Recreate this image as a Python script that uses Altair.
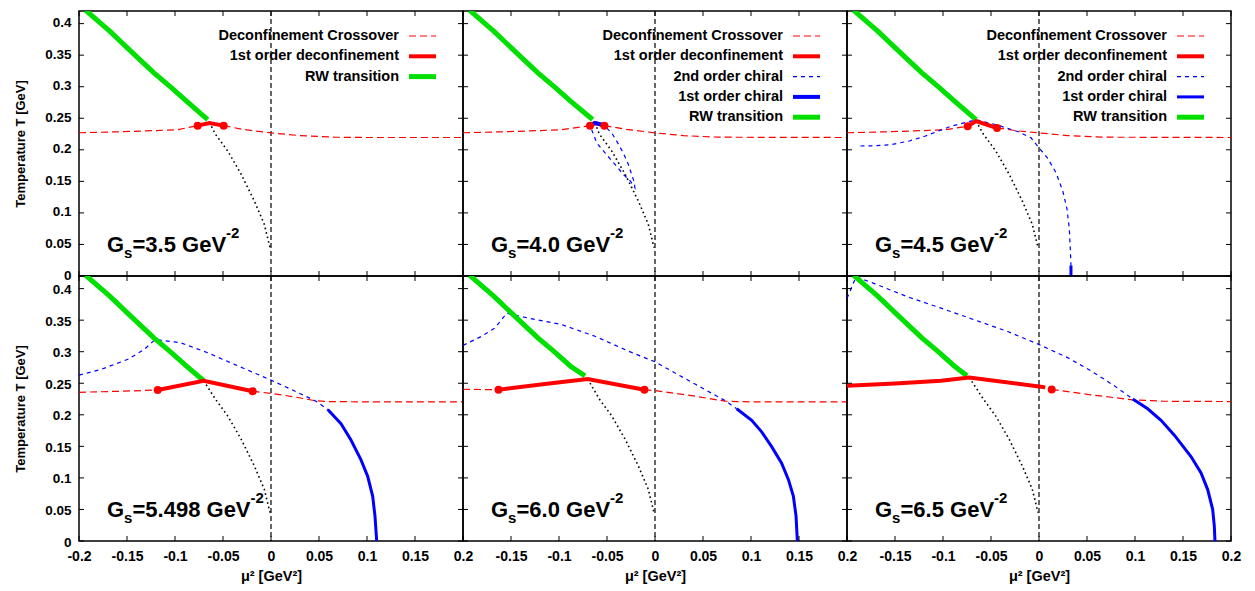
import altair as alt
import pandas as pd

# ---------------- data ----------------
PANEL_GS = ["3.5", "4.0", "4.5", "5.498", "6.0", "6.5"]
XTICKS = [-0.2, -0.15, -0.1, -0.05, 0, 0.05, 0.1, 0.15, 0.2]
YTICKS = [0, 0.05, 0.1, 0.15, 0.2, 0.25, 0.3, 0.35, 0.4]
ZERO_LINE = [0]

# RW transition (green) – shared upper part, panel specific end point
RW_LINE = [(-0.193, 0.421), (-0.168, 0.388), (-0.1417, 0.35), (-0.122, 0.322),
           (-0.105, 0.30), (-0.088, 0.277)]
RW_END = [(-0.066, 0.2477), (-0.065, 0.248), (-0.0656, 0.2477),
          (-0.0701, 0.254), (-0.0729, 0.2618), (-0.075, 0.2618)]

# black dotted line – panel specific start, shared tail
DOTTED_START = [(-0.0642, 0.2435), (-0.0625, 0.2425), (-0.0656, 0.2455),
                (-0.0701, 0.254), (-0.0701, 0.2566), (-0.0726, 0.2592)]
DOTTED_TAIL = [(-0.058, 0.225), (-0.045, 0.198), (-0.031, 0.161), (-0.0174, 0.119),
               (-0.007, 0.082), (-0.001, 0.045)]

# Deconfinement crossover (red dashed), list of segments
CROSS_1 = [[(-0.2, 0.227), (-0.16, 0.2285), (-0.12, 0.2305), (-0.097, 0.232), (-0.0764, 0.2383)],
           [(-0.0493, 0.2383), (-0.03, 0.2325), (0, 0.2268), (0.03, 0.2225), (0.066, 0.22),
            (0.1, 0.2195), (0.2, 0.2195)]]
CROSS_2 = [[(-0.2, 0.227), (-0.16, 0.2285), (-0.12, 0.2305), (-0.097, 0.232), (-0.0677, 0.2383)],
           [(-0.0527, 0.2383), (-0.03, 0.2325), (0, 0.2268), (0.03, 0.2225), (0.066, 0.22),
            (0.2, 0.2195)]]
CROSS_3 = [[(-0.2, 0.227), (-0.16, 0.2285), (-0.12, 0.2305), (-0.097, 0.232), (-0.0743, 0.2373)],
           [(-0.0437, 0.2346), (-0.0222, 0.23), (0, 0.2268), (0.03, 0.2225), (0.066, 0.22),
            (0.2, 0.2195)]]
CROSS_4 = [[(-0.2, 0.2357), (-0.16, 0.2372), (-0.118, 0.2393)],
           [(-0.0191, 0.2373), (0, 0.234), (0.024, 0.2285), (0.0451, 0.2226), (0.06, 0.221),
            (0.1, 0.2205), (0.2, 0.2205)]]
CROSS_5 = [[(-0.2, 0.2405), (-0.163, 0.2398)],
           [(-0.011, 0.2398), (0, 0.2383), (0.04, 0.23), (0.0729, 0.2216), (0.1, 0.2205),
            (0.2, 0.2205)]]
CROSS_6 = [[(0.0132, 0.2403), (0.05, 0.2325), (0.0976, 0.2237), (0.13, 0.2215), (0.2, 0.221)]]

# 1st order deconfinement (thick red) and its end points
DECONF_1 = [(-0.0764, 0.2383), (-0.0642, 0.2425), (-0.0493, 0.2383)]
DECONF_2 = [(-0.0677, 0.2383), (-0.0625, 0.2425), (-0.0527, 0.2383)]
DECONF_3 = [(-0.0743, 0.2373), (-0.0656, 0.2455), (-0.0437, 0.2346)]
DECONF_4 = [(-0.118, 0.2393), (-0.0701, 0.254), (-0.0191, 0.2373)]
DECONF_5 = [(-0.163, 0.2398), (-0.1146, 0.2488), (-0.0701, 0.2566), (-0.011, 0.2398)]
DECONF_6 = [(-0.2, 0.246), (-0.15, 0.2495), (-0.102, 0.254), (-0.0726, 0.2592),
            (0.002, 0.2445), (0.0065, 0.2435)]
DOTS_1 = [(-0.0764, 0.2383), (-0.0493, 0.2383)]
DOTS_2 = [(-0.0677, 0.2383), (-0.0527, 0.2383)]
DOTS_3 = [(-0.0743, 0.2373), (-0.0437, 0.2346)]
DOTS_4 = [(-0.118, 0.2393), (-0.0191, 0.2373)]
DOTS_5 = [(-0.163, 0.2398), (-0.011, 0.2398)]
DOTS_6 = [(0.0132, 0.2403)]

# 2nd order chiral (blue dashed)
CHIRAL2_1 = []
CHIRAL2_2 = [(-0.066, 0.232), (-0.0607, 0.211), (-0.052, 0.195), (-0.0417, 0.177),
             (-0.033, 0.161), (-0.026, 0.151), (-0.021, 0.14), (-0.0215, 0.148),
             (-0.0243, 0.161), (-0.0278, 0.177), (-0.033, 0.195), (-0.0399, 0.2137),
             (-0.0451, 0.2268), (-0.05, 0.234)]
CHIRAL2_3 = [(-0.186, 0.206), (-0.17, 0.2065), (-0.154, 0.2083), (-0.135, 0.214),
             (-0.119, 0.2215), (-0.0917, 0.2373), (-0.0656, 0.2477), (-0.044, 0.2395),
             (-0.0222, 0.229), (-0.0083, 0.219), (0, 0.203), (0.0087, 0.1874),
             (0.0177, 0.1638), (0.0247, 0.135), (0.0292, 0.106), (0.0316, 0.0745),
             (0.0326, 0.043), (0.0333, 0.0168)]
CHIRAL2_4 = [(-0.2, 0.2628), (-0.177, 0.272), (-0.149, 0.288), (-0.132, 0.3036),
             (-0.1208, 0.3193), (-0.0938, 0.314), (-0.066, 0.2984), (-0.0382, 0.28),
             (0, 0.255), (0.024, 0.2382), (0.0469, 0.2216), (0.0591, 0.2085)]
CHIRAL2_5 = [(-0.2, 0.31), (-0.1806, 0.3245), (-0.1667, 0.3376), (-0.1545, 0.361),
             (-0.1319, 0.3533), (-0.0972, 0.343), (-0.0625, 0.3245), (-0.0278, 0.301),
             (0, 0.284), (0.0417, 0.2487), (0.0729, 0.2226), (0.0851, 0.2096)]
CHIRAL2_6 = [(-0.2, 0.3846), (-0.1906, 0.4185), (-0.1715, 0.408), (-0.1368, 0.387),
             (-0.102, 0.369), (-0.0674, 0.3506), (-0.0326, 0.332), (0, 0.3114),
             (0.0299, 0.2906), (0.0542, 0.2696), (0.0785, 0.246), (0.0976, 0.2252)]

# 1st order chiral (blue solid)
CHIRAL1_1 = []
CHIRAL1_2 = [(-0.0677, 0.2395), (-0.0625, 0.2425), (-0.054, 0.2395)]
CHIRAL1_3 = [(0.0333, 0.0168), (0.0333, 0.0)]
CHIRAL1_4 = [(0.0591, 0.2085), (0.0729, 0.186), (0.0833, 0.16), (0.09375, 0.1285),
             (0.1007, 0.1025), (0.1059, 0.0711), (0.1083, 0.0398), (0.1101, 0.0)]
CHIRAL1_5 = [(0.0851, 0.2096), (0.1007, 0.1912), (0.1111, 0.173), (0.1215, 0.1495),
             (0.1319, 0.1234), (0.139, 0.0972), (0.1441, 0.0711), (0.1469, 0.0398),
             (0.1483, 0.0)]
CHIRAL1_6 = [(0.0976, 0.2252), (0.1132, 0.2096), (0.1271, 0.1912), (0.141, 0.1677),
             (0.1583, 0.1339), (0.1688, 0.1077), (0.1757, 0.0815), (0.1809, 0.0502),
             (0.1826, 0.0241), (0.1833, 0.0)]

CROSS = [CROSS_1, CROSS_2, CROSS_3, CROSS_4, CROSS_5, CROSS_6]
DECONF = [DECONF_1, DECONF_2, DECONF_3, DECONF_4, DECONF_5, DECONF_6]
DOTS = [DOTS_1, DOTS_2, DOTS_3, DOTS_4, DOTS_5, DOTS_6]
CHIRAL2 = [CHIRAL2_1, CHIRAL2_2, CHIRAL2_3, CHIRAL2_4, CHIRAL2_5, CHIRAL2_6]
CHIRAL1 = [CHIRAL1_1, CHIRAL1_2, CHIRAL1_3, CHIRAL1_4, CHIRAL1_5, CHIRAL1_6]

LEGEND_SHORT = ["Deconfinement Crossover", "1st order deconfinement", "RW transition"]
LEGEND_FULL = ["Deconfinement Crossover", "1st order deconfinement", "2nd order chiral",
               "1st order chiral", "RW transition"]
PANEL_LEGEND = [LEGEND_SHORT, LEGEND_FULL, LEGEND_FULL, [], [], []]

# ---------------- styling ----------------
FONT = "Liberation Sans"
W, H = 384, 265
RED, BLUE, GREEN, BLACK = "#ff0000", "#0000ff", "#00e000", "#000000"
DASH_CROSS = [7, 4]
DASH_CHIRAL = [4, 4]
DASH_DOT = [1.6, 3]
DASH_ZERO = [5, 3]

STYLE = {
    "Deconfinement Crossover": dict(color=RED, strokeWidth=1.2, strokeDash=DASH_CROSS),
    "1st order deconfinement": dict(color=RED, strokeWidth=4),
    "2nd order chiral": dict(color=BLUE, strokeWidth=1.2, strokeDash=DASH_CHIRAL),
    "1st order chiral": dict(color=BLUE, strokeWidth=3),
    "RW transition": dict(color=GREEN, strokeWidth=5),
}

xs = alt.Scale(domain=[-0.2, 0.2], nice=False, zero=False)
ys = alt.Scale(domain=[0, 0.42], nice=False, zero=False)

AX = dict(ticks=False, tickSize=0, domain=False, grid=False, labelFont=FONT,
          labelFontWeight="bold", labelColor=BLACK, titleFont=FONT,
          titleFontWeight="bold", titleColor=BLACK, labelFlush=False,
          labelOverlap=False, labelExpr="'' + datum.value")

CW = {"=": 0.584, ".": 0.278, " ": 0.278, "G": 0.778, "e": 0.556, "V": 0.667}


def text_width(s, size):
    return sum(CW.get(c, 0.556) for c in s) * size


def seg_df(segments):
    rows = []
    for s, seg in enumerate(segments):
        for i, (x, y) in enumerate(seg):
            rows.append({"x": x, "y": y, "i": i, "seg": s})
    return pd.DataFrame(rows)


def make_panel(k):
    col, row = k % 3, k // 3
    if row == 1:
        xvals = XTICKS if col == 0 else XTICKS[1:]
        xaxis = alt.Axis(values=xvals, title="μ² [GeV²]", labelPadding=8, titlePadding=6,
                         labelFontSize=14, titleFontSize=14.5, **AX)
    else:
        xaxis = None
    if col == 0:
        yaxis = alt.Axis(values=YTICKS, title="Temperature T [GeV]", labelPadding=8,
                         titlePadding=17, titleFontSize=13, labelFontSize=13.5,
                         labelOffset=(-1 if row == 0 else 1), **AX)
    else:
        yaxis = None
    X = alt.X("x:Q", scale=xs, axis=xaxis)
    Y = alt.Y("y:Q", scale=ys, axis=yaxis)

    def line(segments, style):
        return alt.Chart(seg_df(segments)).mark_line(clip=True, **style).encode(
            x=X, y=Y, order="i:Q", detail="seg:N")

    layers = []
    layers.append(alt.Chart(pd.DataFrame({"x": ZERO_LINE})).mark_rule(
        color=BLACK, strokeWidth=1.2, strokeDash=DASH_ZERO).encode(x=X))
    layers.append(line(CROSS[k], STYLE["Deconfinement Crossover"]))
    if CHIRAL2[k]:
        layers.append(line([CHIRAL2[k]], STYLE["2nd order chiral"]))
    layers.append(line([[DOTTED_START[k]] + DOTTED_TAIL],
                       dict(color=BLACK, strokeWidth=1.6, strokeDash=DASH_DOT)))
    layers.append(line([RW_LINE + [RW_END[k]]], STYLE["RW transition"]))
    layers.append(line([DECONF[k]], STYLE["1st order deconfinement"]))
    if CHIRAL1[k]:
        c1 = dict(STYLE["1st order chiral"])
        if k == 1:
            c1["strokeWidth"] = 4
        layers.append(line([CHIRAL1[k]], c1))
    layers.append(alt.Chart(seg_df([DOTS[k]])).mark_circle(
        size=64, color=RED, opacity=1).encode(x=X, y=Y))

    # inward ticks on all four sides
    xt = pd.DataFrame({"x": XTICKS})
    yt = pd.DataFrame({"y": YTICKS})
    tk = dict(color=BLACK, strokeWidth=1)
    layers.append(alt.Chart(xt).mark_rule(**tk).encode(x=X, y=alt.value(H), y2=alt.value(H - 5)))
    layers.append(alt.Chart(xt).mark_rule(**tk).encode(x=X, y=alt.value(0), y2=alt.value(5)))
    layers.append(alt.Chart(yt).mark_rule(**tk).encode(y=Y, x=alt.value(0), x2=alt.value(5)))
    layers.append(alt.Chart(yt).mark_rule(**tk).encode(y=Y, x=alt.value(W), x2=alt.value(W - 5)))

    def txt(s, x, y, size, align="left", baseline="alphabetic"):
        return alt.Chart(pd.DataFrame({"t": [s]})).mark_text(
            font=FONT, fontWeight="bold", fontSize=size, align=align, baseline=baseline,
            color=BLACK).encode(text="t:N", x=alt.value(x), y=alt.value(y))

    # legend
    row_y = [25, 45.3, 65.6, 85.9, 106.2]
    for r, lab in enumerate(PANEL_LEGEND[k]):
        layers.append(txt(lab, 320, row_y[r], 14.5, align="right", baseline="middle"))
        st = dict(STYLE[lab])
        if lab == "1st order chiral" and k == 1:
            st["strokeWidth"] = 4
        layers.append(alt.Chart(pd.DataFrame({"a": [0]})).mark_rule(**st).encode(
            x=alt.value(330), x2=alt.value(357), y=alt.value(row_y[r])))

    # panel label  G_s = ... GeV^-2
    main = "=" + PANEL_GS[k] + " GeV"
    base = H - 24
    layers.append(txt("G", 28, base, 22))
    layers.append(txt("s", 45, base + 6, 15))
    layers.append(txt(main, 53.5, base, 22))
    layers.append(txt("-2", 53.5 + text_width(main, 22), base - 14, 15))

    return alt.layer(*layers).properties(width=W, height=H)


panels = [make_panel(k) for k in range(6)]
chart = alt.concat(*panels, columns=3, spacing=0, bounds="flush").properties(
    padding={"left": 5, "top": 1, "right": 5, "bottom": 5}, background="white"
).configure_view(stroke=BLACK, strokeWidth=1.5)

chart.save("out.html", embed_options={"renderer": "svg", "actions": False})
